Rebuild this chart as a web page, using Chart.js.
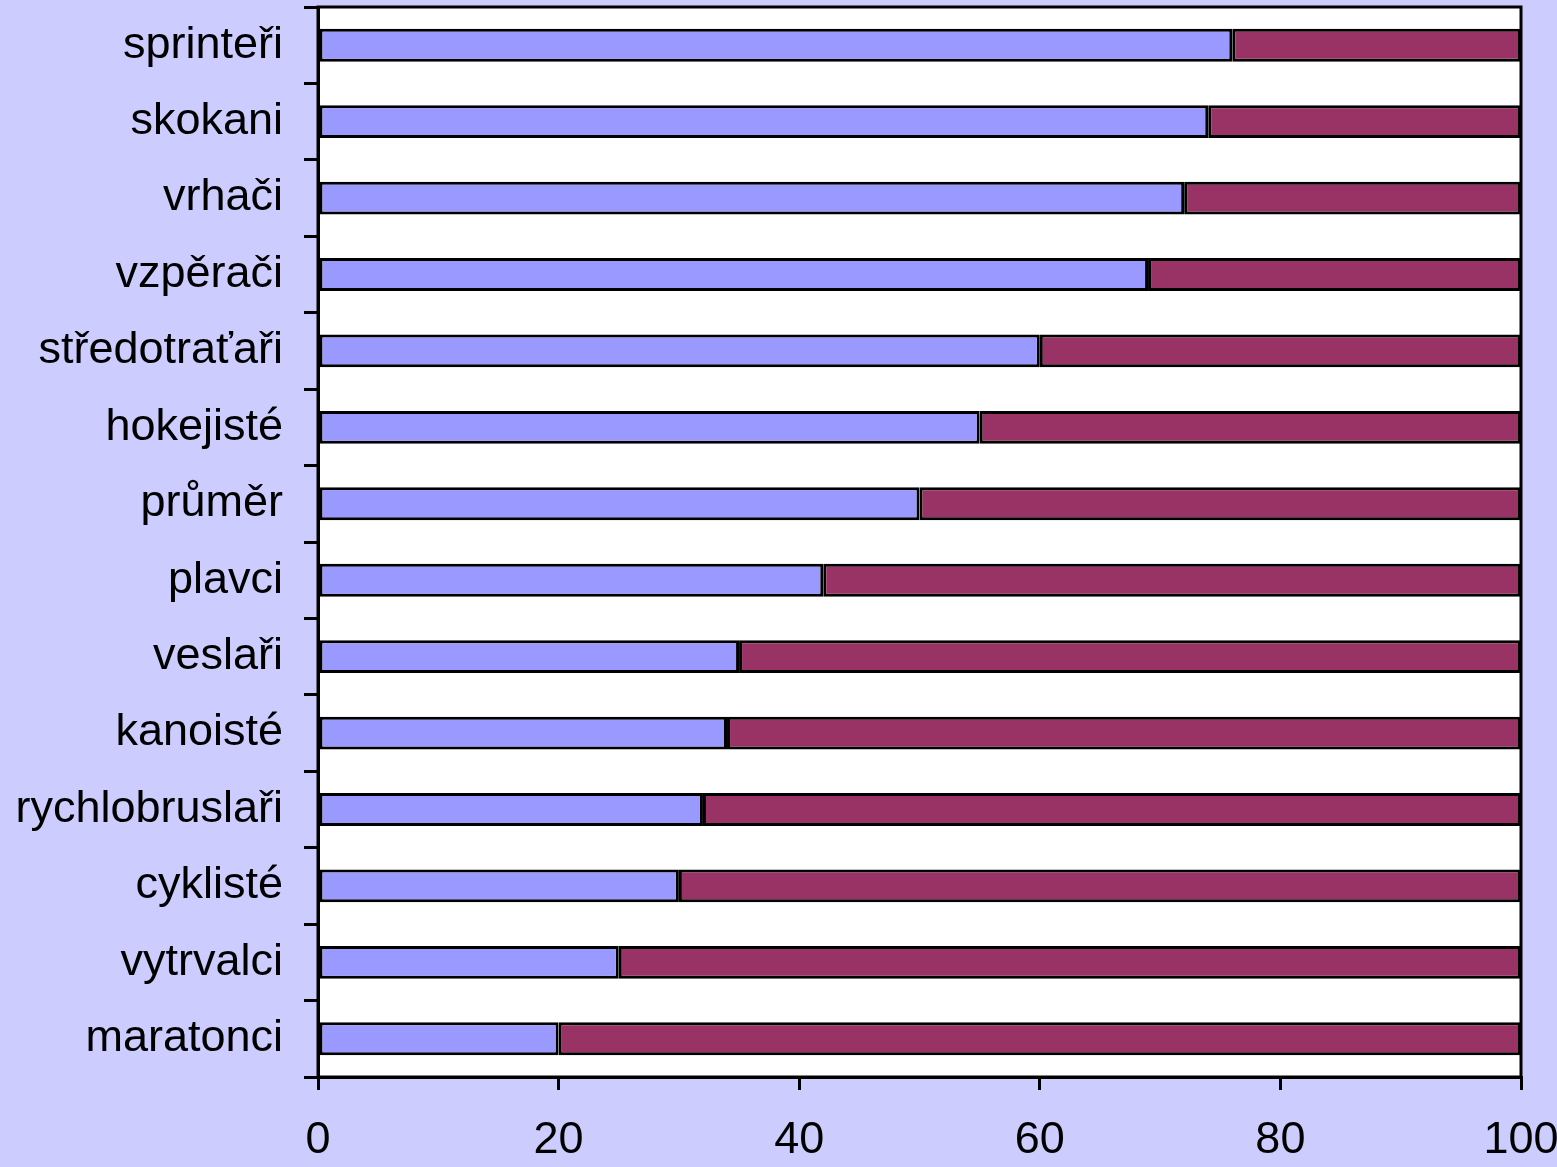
<!DOCTYPE html>
<html>
<head>
<meta charset="utf-8">
<script src="https://cdn.jsdelivr.net/npm/chart.js@4/dist/chart.umd.min.js"></script>
<style>
  html, body { margin: 0; padding: 0; background: #CCCCFF; }
  #wrap { width: 1557px; height: 1167px; }
</style>
</head>
<body>
<div id="wrap"><canvas id="c" width="1557" height="1167"></canvas></div>
<script>
var categories = ['sprinteři', 'skokani', 'vrhači', 'vzpěrači', 'středotraťaři', 'hokejisté',
  'průměr', 'plavci', 'veslaři', 'kanoisté', 'rychlobruslaři', 'cyklisté', 'vytrvalci', 'maratonci'];
var fastFibres = [76, 74, 72, 69, 60, 55, 50, 42, 35, 34, 32, 30, 25, 20];
var slowFibres = [24, 26, 28, 31, 40, 45, 50, 58, 65, 66, 68, 70, 75, 80];
var xTicks = [0, 20, 40, 60, 80, 100];

// lavender page, white plot, black frame round the plot area
var frame = {
  id: 'frame',
  beforeDraw: function(chart) {
    var ctx = chart.ctx, a = chart.chartArea;
    ctx.save();
    ctx.fillStyle = '#CCCCFF';
    ctx.fillRect(0, 0, chart.width, chart.height);
    ctx.fillStyle = '#FFFFFF';
    ctx.fillRect(a.left, a.top, a.right - a.left, a.bottom - a.top);
    ctx.restore();
  },
  afterDraw: function(chart) {
    var ctx = chart.ctx, a = chart.chartArea;
    ctx.save();
    ctx.strokeStyle = '#000';
    ctx.lineWidth = 3;
    ctx.strokeRect(a.left, a.top, a.right - a.left, a.bottom - a.top);
    ctx.restore();
  }
};

var font = { family: '"Liberation Sans", Arial, sans-serif', size: 45 };

new Chart(document.getElementById('c'), {
  type: 'bar',
  data: {
    labels: categories,
    datasets: [
      { data: fastFibres, backgroundColor: '#9999FF', borderColor: '#000', borderWidth: 3,
        borderSkipped: false, barPercentage: 0.43, categoryPercentage: 1 },
      { data: slowFibres, backgroundColor: '#993366', borderColor: '#000', borderWidth: 3,
        borderSkipped: false, barPercentage: 0.43, categoryPercentage: 1 }
    ]
  },
  options: {
    indexAxis: 'y',
    responsive: false,
    animation: false,
    layout: { padding: { top: 7, left: 0, right: 0, bottom: 0 } },
    plugins: { legend: { display: false }, tooltip: { enabled: false } },
    scales: {
      x: {
        stacked: true,
        min: 0, max: 100,
        afterBuildTicks: function(scale) {
          scale.ticks = xTicks.map(function(v) { return { value: v }; });
        },
        afterFit: function(scale) {
          scale.height = 90;
          scale.paddingLeft = 0;
          scale.paddingRight = 36;
        },
        grid: { drawOnChartArea: false, drawTicks: true, tickLength: 13, color: '#000', lineWidth: 3 },
        border: { color: '#000', width: 3 },
        ticks: { color: '#000', font: font, padding: 24, maxRotation: 0 }
      },
      y: {
        stacked: true,
        afterFit: function(scale) {
          scale.width = 318;
          scale.paddingTop = 0;
          scale.paddingBottom = 0;
        },
        grid: { drawOnChartArea: false, drawTicks: true, tickLength: 14, color: '#000', lineWidth: 3, offset: true },
        border: { color: '#000', width: 3 },
        ticks: { color: '#000', font: font, padding: 21, autoSkip: false }
      }
    }
  },
  plugins: [frame]
});
</script>
</body>
</html>
